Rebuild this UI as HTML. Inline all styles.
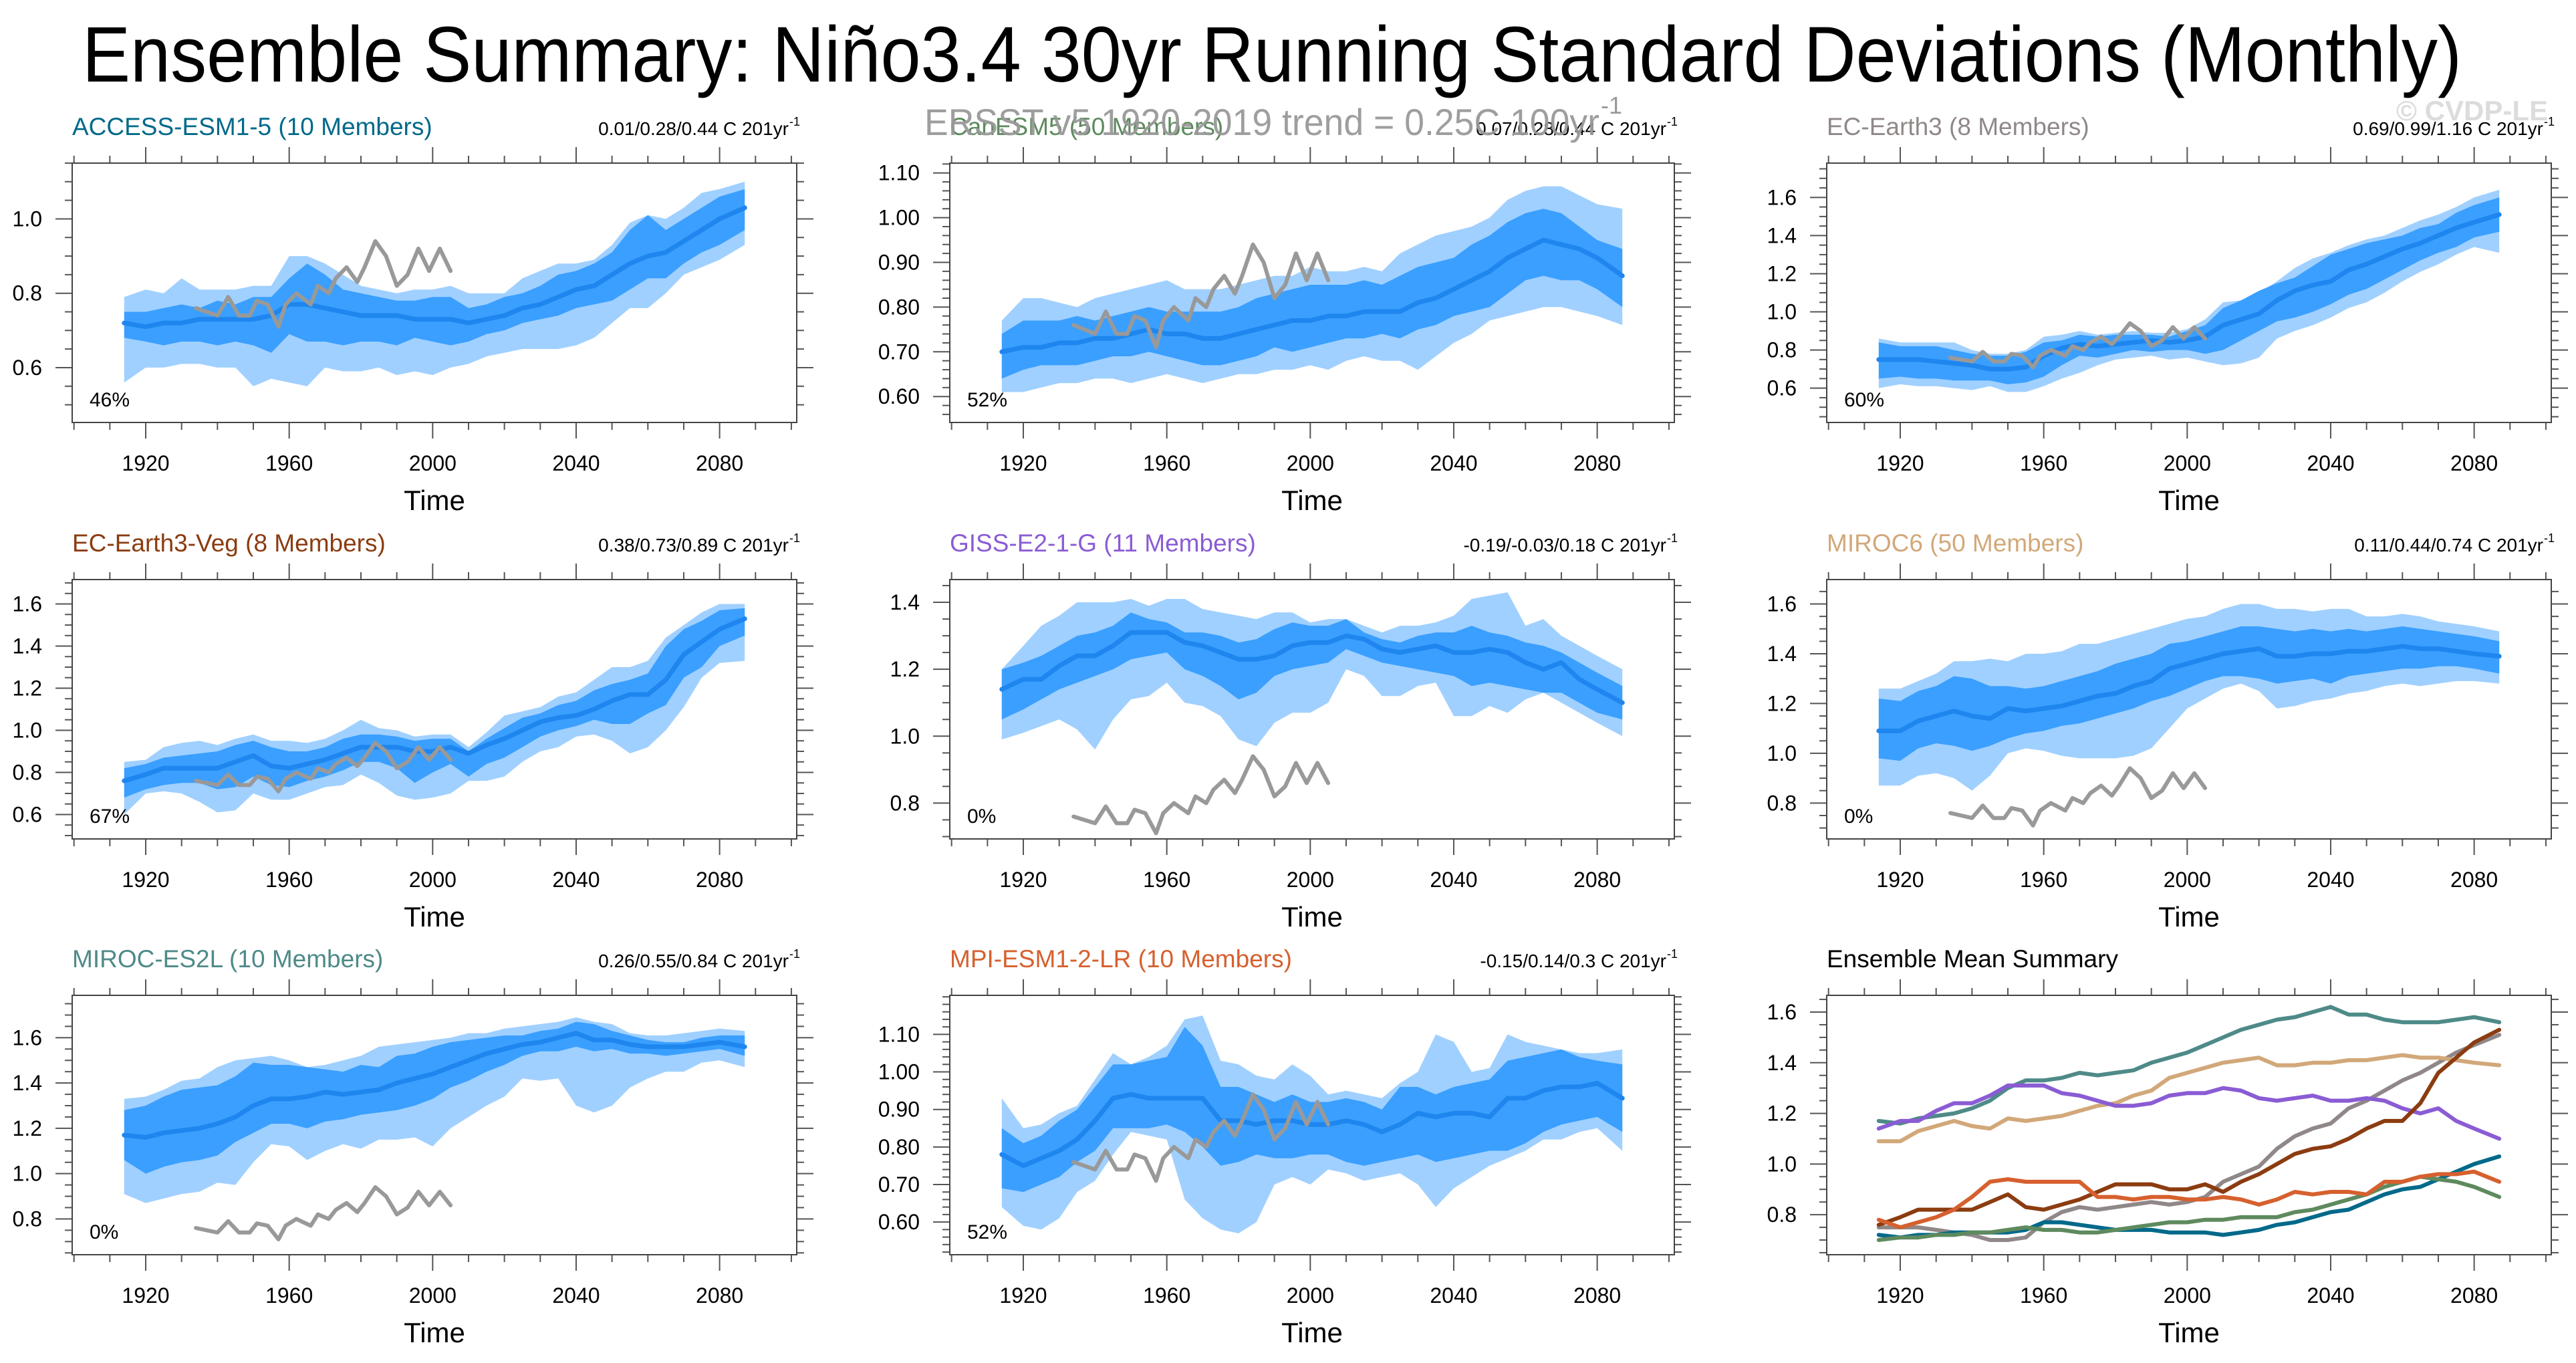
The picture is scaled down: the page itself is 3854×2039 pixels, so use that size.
<!DOCTYPE html>
<html><head><meta charset="utf-8"><title>Ensemble Summary</title>
<style>html,body{margin:0;padding:0;background:#fff;}svg{display:block;font-family:"Liberation Sans",Arial,sans-serif;}</style>
</head><body>
<svg id="chart" xmlns="http://www.w3.org/2000/svg" width="3854" height="2039" viewBox="0 0 3854 2039">
<rect width="3854" height="2039" fill="#fff"/>
<text x="123" y="122" font-size="118" textLength="3560" lengthAdjust="spacingAndGlyphs" fill="#000">Ensemble Summary: Niño3.4 30yr Running Standard Deviations (Monthly)</text>
<text x="3812" y="180" font-size="42" font-weight="bold" text-anchor="end" fill="#dcdcdc">© CVDP-LE</text>
<g id="panels"></g>
<text x="1383" y="202" font-size="56" fill="#999" fill-opacity="0.95" textLength="1010" lengthAdjust="spacingAndGlyphs">ERSST v5 1920-2019 trend = 0.25C 100yr</text>
<text x="2395" y="170" font-size="36" fill="#999">-1</text>
</svg>
<script>
const years=[1914,1920,1925,1930,1935,1940,1945,1950,1955,1960,1965,1970,1975,1980,1985,1990,1995,2000,2005,2010,2015,2020,2025,2030,2035,2040,2045,2050,2055,2060,2065,2070,2075,2080,2087];
const obsYears=[1934,1937,1940,1943,1946,1949,1951,1954,1957,1959,1962,1966,1968,1971,1973,1976,1979,1981,1984,1987,1990,1993,1996,1999,2002,2005];
const obsValues=[0.76,0.75,0.74,0.79,0.74,0.74,0.78,0.77,0.71,0.77,0.80,0.77,0.82,0.80,0.84,0.87,0.83,0.87,0.94,0.90,0.82,0.85,0.92,0.86,0.92,0.86];

const p1Mean=[.72,.71,.72,.72,.73,.73,.73,.73,.74,.77,.77,.76,.75,.74,.74,.74,.73,.73,.73,.72,.73,.74,.76,.77,.79,.81,.82,.85,.88,.90,.91,.94,.97,1.0,1.03];
const p1InHi=[.75,.75,.76,.77,.76,.78,.77,.79,.79,.84,.88,.85,.81,.80,.79,.78,.78,.79,.79,.76,.77,.79,.80,.82,.85,.86,.88,.91,.97,1.01,.97,1.00,1.03,1.06,1.08];
const p1InLo=[.68,.67,.66,.67,.67,.66,.67,.66,.64,.69,.67,.67,.66,.67,.67,.66,.68,.67,.66,.67,.69,.70,.72,.73,.74,.76,.77,.78,.81,.84,.84,.88,.91,.93,.97];
const p1OutHi=[.79,.81,.80,.84,.81,.81,.81,.82,.82,.90,.90,.88,.85,.82,.81,.80,.81,.81,.82,.80,.80,.80,.84,.86,.88,.88,.89,.93,.99,1.01,1.00,1.03,1.07,1.08,1.10];
const p1OutLo=[.56,.60,.60,.61,.61,.60,.60,.55,.57,.56,.55,.60,.59,.59,.60,.58,.59,.58,.60,.61,.63,.64,.65,.65,.65,.66,.68,.72,.76,.76,.80,.85,.87,.89,.93];

const p2Mean=[.70,.71,.71,.72,.72,.73,.73,.74,.75,.74,.74,.73,.73,.74,.75,.76,.77,.77,.78,.78,.79,.79,.79,.81,.82,.84,.86,.88,.91,.93,.95,.94,.93,.91,.87];
const p2InHi=[.74,.77,.77,.77,.78,.77,.78,.79,.80,.79,.79,.79,.79,.80,.82,.83,.84,.85,.85,.85,.86,.85,.87,.89,.90,.91,.94,.96,.99,1.01,1.02,1.01,.98,.95,.93];
const p2InLo=[.64,.66,.67,.67,.67,.68,.69,.69,.70,.69,.68,.67,.67,.68,.69,.71,.70,.71,.72,.73,.73,.74,.73,.75,.76,.78,.79,.80,.83,.86,.87,.86,.86,.84,.80];
const p2OutHi=[.77,.82,.82,.81,.80,.82,.83,.84,.85,.86,.84,.84,.84,.85,.86,.87,.87,.89,.88,.88,.89,.88,.92,.94,.96,.97,.98,1.00,1.04,1.06,1.07,1.07,1.05,1.03,1.02];
const p2OutLo=[.61,.61,.62,.63,.63,.64,.64,.63,.64,.65,.64,.63,.64,.65,.65,.66,.66,.67,.66,.68,.69,.68,.68,.66,.69,.72,.74,.77,.78,.79,.80,.80,.79,.78,.76];

const p3Mean=[.75,.75,.75,.74,.73,.72,.70,.70,.71,.77,.81,.83,.82,.83,.84,.85,.84,.85,.87,.93,.96,.99,1.06,1.11,1.14,1.16,1.22,1.25,1.29,1.33,1.36,1.40,1.44,1.47,1.51];
const p3InHi=[.84,.82,.82,.82,.80,.78,.77,.77,.79,.84,.85,.88,.87,.88,.88,.88,.87,.90,.93,1.02,1.06,1.11,1.15,1.18,1.24,1.30,1.33,1.36,1.38,1.40,1.44,1.46,1.52,1.56,1.60];
const p3InLo=[.65,.66,.65,.65,.64,.64,.64,.62,.63,.66,.72,.77,.76,.78,.80,.79,.80,.80,.78,.80,.85,.90,.95,.97,1.00,1.04,1.09,1.12,1.17,1.22,1.27,1.31,1.34,1.39,1.42];
const p3OutHi=[.86,.84,.84,.84,.84,.80,.78,.78,.80,.87,.88,.90,.88,.89,.90,.89,.89,.91,.96,1.05,1.06,1.10,1.16,1.23,1.28,1.31,1.35,1.38,1.40,1.44,1.48,1.51,1.55,1.60,1.64];
const p3OutLo=[.60,.62,.61,.61,.60,.59,.61,.58,.58,.61,.65,.68,.72,.75,.76,.77,.75,.76,.74,.72,.73,.76,.86,.90,.93,.97,1.02,1.05,1.10,1.16,1.21,1.25,1.30,1.34,1.31];

const p4Mean=[.76,.79,.82,.82,.82,.82,.85,.88,.83,.82,.84,.86,.89,.92,.92,.92,.90,.90,.92,.89,.93,.96,1.00,1.04,1.06,1.07,1.10,1.14,1.17,1.17,1.24,1.36,1.42,1.48,1.53];
const p4InHi=[.82,.84,.87,.88,.89,.90,.93,.95,.92,.90,.90,.92,.96,.98,.98,.97,.95,.96,.96,.90,.96,1.01,1.06,1.08,1.12,1.14,1.19,1.22,1.24,1.27,1.40,1.48,1.52,1.57,1.58];
const p4InLo=[.68,.72,.74,.75,.75,.72,.73,.78,.74,.73,.76,.78,.81,.85,.85,.82,.75,.80,.84,.78,.84,.87,.92,.97,1.00,1.02,1.05,1.03,1.03,1.08,1.12,1.25,1.30,1.40,1.45];
const p4OutHi=[.85,.86,.92,.94,.95,.93,.96,.98,.95,.95,.94,.96,1.0,1.05,1.01,1.00,.97,.98,.98,.92,.99,1.07,1.09,1.11,1.16,1.18,1.24,1.30,1.30,1.33,1.44,1.50,1.56,1.60,1.60];
const p4OutLo=[.60,.70,.71,.70,.66,.61,.62,.70,.67,.67,.70,.73,.74,.79,.75,.69,.67,.68,.70,.76,.76,.78,.85,.90,.92,.97,.98,.95,.89,.92,1.00,1.11,1.25,1.32,1.33];

const p5Mean=[1.14,1.17,1.17,1.21,1.24,1.24,1.27,1.31,1.31,1.31,1.28,1.27,1.25,1.23,1.23,1.24,1.27,1.28,1.28,1.30,1.29,1.26,1.25,1.26,1.27,1.25,1.25,1.26,1.25,1.22,1.20,1.22,1.17,1.14,1.10];
const p5InHi=[1.20,1.22,1.24,1.27,1.30,1.31,1.33,1.37,1.35,1.34,1.31,1.31,1.30,1.28,1.29,1.32,1.34,1.33,1.33,1.35,1.31,1.29,1.28,1.30,1.31,1.31,1.33,1.31,1.30,1.28,1.27,1.25,1.22,1.19,1.15];
const p5InLo=[1.05,1.08,1.11,1.14,1.16,1.18,1.20,1.23,1.24,1.25,1.20,1.18,1.15,1.11,1.13,1.18,1.20,1.21,1.22,1.26,1.24,1.22,1.21,1.20,1.19,1.18,1.15,1.16,1.15,1.14,1.13,1.13,1.10,1.07,1.05];
const p5OutHi=[1.20,1.27,1.33,1.36,1.40,1.40,1.40,1.41,1.39,1.41,1.41,1.38,1.37,1.36,1.35,1.37,1.37,1.34,1.35,1.35,1.33,1.31,1.33,1.33,1.34,1.36,1.41,1.42,1.43,1.33,1.35,1.30,1.27,1.24,1.20];
const p5OutLo=[0.99,1.01,1.03,1.05,1.02,0.96,1.05,1.11,1.12,1.16,1.10,1.09,1.06,0.99,0.97,1.04,1.07,1.07,1.10,1.20,1.18,1.12,1.12,1.15,1.16,1.06,1.06,1.09,1.07,1.11,1.13,1.10,1.07,1.04,1.00];

const p6Mean=[1.09,1.09,1.13,1.15,1.17,1.15,1.14,1.18,1.17,1.18,1.19,1.21,1.23,1.24,1.27,1.29,1.34,1.36,1.38,1.40,1.41,1.42,1.39,1.39,1.40,1.40,1.41,1.41,1.42,1.43,1.42,1.42,1.41,1.40,1.39];
const p6InHi=[1.22,1.21,1.25,1.27,1.31,1.30,1.27,1.27,1.26,1.27,1.29,1.31,1.33,1.36,1.38,1.40,1.44,1.45,1.47,1.49,1.51,1.51,1.50,1.49,1.50,1.49,1.50,1.49,1.50,1.51,1.50,1.49,1.48,1.47,1.45];
const p6InLo=[.98,.97,1.02,1.04,1.03,1.01,1.03,1.06,1.08,1.09,1.11,1.12,1.14,1.16,1.18,1.21,1.23,1.26,1.29,1.31,1.31,1.30,1.28,1.29,1.30,1.28,1.31,1.32,1.33,1.34,1.34,1.35,1.35,1.34,1.32];
const p6OutHi=[1.26,1.26,1.29,1.32,1.37,1.37,1.38,1.37,1.40,1.40,1.41,1.44,1.44,1.46,1.48,1.50,1.52,1.54,1.55,1.58,1.60,1.60,1.58,1.58,1.57,1.58,1.58,1.55,1.55,1.56,1.55,1.53,1.52,1.51,1.49];
const p6OutLo=[.87,.87,.91,.92,.90,.85,.91,1.00,1.02,1.01,.99,.98,.98,.98,.99,1.02,1.10,1.18,1.22,1.26,1.28,1.25,1.18,1.19,1.21,1.22,1.24,1.25,1.27,1.28,1.27,1.28,1.29,1.29,1.28];

const p7Mean=[1.17,1.16,1.18,1.19,1.20,1.22,1.25,1.30,1.33,1.33,1.34,1.36,1.35,1.36,1.37,1.40,1.42,1.44,1.47,1.50,1.53,1.55,1.57,1.58,1.60,1.62,1.59,1.59,1.57,1.56,1.56,1.56,1.57,1.58,1.56];
const p7InHi=[1.28,1.30,1.34,1.37,1.38,1.39,1.43,1.49,1.48,1.48,1.47,1.46,1.45,1.48,1.47,1.52,1.53,1.56,1.58,1.59,1.60,1.61,1.61,1.63,1.64,1.67,1.66,1.63,1.61,1.59,1.58,1.58,1.60,1.61,1.61];
const p7InLo=[1.06,1.00,1.03,1.05,1.06,1.08,1.14,1.18,1.22,1.22,1.20,1.23,1.24,1.26,1.27,1.28,1.30,1.33,1.38,1.41,1.45,1.48,1.52,1.54,1.54,1.56,1.54,1.55,1.53,1.53,1.52,1.53,1.54,1.55,1.52];
const p7OutHi=[1.33,1.34,1.37,1.41,1.42,1.47,1.50,1.51,1.52,1.50,1.47,1.48,1.50,1.52,1.56,1.57,1.58,1.59,1.60,1.62,1.62,1.64,1.65,1.66,1.67,1.69,1.67,1.66,1.62,1.61,1.61,1.62,1.63,1.64,1.63];
const p7OutLo=[.91,.87,.89,.91,.92,.96,.95,1.05,1.13,1.12,1.06,1.10,1.13,1.11,1.15,1.15,1.16,1.12,1.20,1.25,1.30,1.34,1.42,1.41,1.42,1.30,1.27,1.30,1.38,1.42,1.45,1.45,1.49,1.50,1.47];

const p8Mean=[.78,.75,.77,.79,.82,.87,.93,.94,.93,.93,.93,.93,.87,.87,.86,.87,.87,.86,.86,.87,.86,.84,.86,.89,.88,.89,.89,.88,.93,.93,.95,.96,.96,.97,.93];
const p8InHi=[.85,.81,.83,.87,.90,.96,1.02,1.02,1.03,1.04,1.12,1.07,.96,.96,.94,.92,.94,.92,.92,.93,.92,.90,.96,.96,.94,.96,.97,.98,1.03,1.04,1.05,1.06,1.04,1.03,1.02];
const p8InLo=[.69,.68,.70,.72,.76,.79,.85,.85,.85,.86,.84,.80,.75,.76,.78,.77,.77,.78,.78,.76,.75,.76,.77,.78,.76,.77,.78,.79,.79,.81,.84,.86,.87,.88,.84];
const p8OutHi=[.93,.85,.86,.89,.91,.98,1.05,1.02,1.04,1.07,1.14,1.15,1.03,1.02,.99,.98,1.02,.99,.94,.95,.94,.93,.97,1.00,1.10,1.08,1.00,1.01,1.10,1.08,1.07,1.06,1.05,1.05,1.06];
const p8OutLo=[.64,.59,.58,.61,.68,.71,.78,.84,.83,.82,.66,.61,.58,.57,.60,.70,.72,.70,.74,.73,.71,.72,.73,.70,.64,.69,.72,.75,.77,.79,.82,.82,.84,.85,.79];

const modelNames=["ACCESS-ESM1-5 (10 Members)","CanESM5 (50 Members)","EC-Earth3 (8 Members)","EC-Earth3-Veg (8 Members)","GISS-E2-1-G (11 Members)","MIROC6 (50 Members)","MIROC-ES2L (10 Members)","MPI-ESM1-2-LR (10 Members)"];
const trendLabels=["0.01/0.28/0.44 C 201yr","0.07/0.28/0.44 C 201yr","0.69/0.99/1.16 C 201yr","0.38/0.73/0.89 C 201yr","-0.19/-0.03/0.18 C 201yr","0.11/0.44/0.74 C 201yr","0.26/0.55/0.84 C 201yr","-0.15/0.14/0.3 C 201yr"];
const pctLabels=["46%","52%","60%","67%","0%","0%","0%","52%"];
const yMins=[0.4525,0.542,0.42,0.484,0.693,0.656,0.642,0.513];
const yMaxs=[1.15,1.122,1.78,1.716,1.468,1.698,1.787,1.204];
const yMajors=[[0.6,0.8,1.0],[0.6,0.7,0.8,0.9,1.0,1.1],[0.6,0.8,1.0,1.2,1.4,1.6],[0.6,0.8,1.0,1.2,1.4,1.6],[0.8,1.0,1.2,1.4],[0.8,1.0,1.2,1.4,1.6],[0.8,1.0,1.2,1.4,1.6],[0.6,0.7,0.8,0.9,1.0,1.1]];
const summaryMajors=[0.8,1.0,1.2,1.4,1.6];
const xMajors=[1920,1960,2000,2040,2080];

const modelColors=["#00698a","#5e8a5e","#908888","#8b3c10","#8a5cd4","#d2a87a","#4e8a88","#d6602e"];
const means=[p1Mean,p2Mean,p3Mean,p4Mean,p5Mean,p6Mean,p7Mean,p8Mean];
const inHis=[p1InHi,p2InHi,p3InHi,p4InHi,p5InHi,p6InHi,p7InHi,p8InHi];
const inLos=[p1InLo,p2InLo,p3InLo,p4InLo,p5InLo,p6InLo,p7InLo,p8InLo];
const outHis=[p1OutHi,p2OutHi,p3OutHi,p4OutHi,p5OutHi,p6OutHi,p7OutHi,p8OutHi];
const outLos=[p1OutLo,p2OutLo,p3OutLo,p4OutLo,p5OutLo,p6OutLo,p7OutLo,p8OutLo];

const NS="http://www.w3.org/2000/svg";
const root=document.getElementById('panels');
const BW=1084,BH=388;
const colX=[108,1421,2733];
const rowY=[244,867,1489];
const X0=1899.5,X1=2101.5;

function mk(tag,attrs,parent){const e=document.createElementNS(NS,tag);for(const k in attrs)e.setAttribute(k,attrs[k]);parent.appendChild(e);return e;}

function drawAxes(g,bx,by,ymin,ymax,majors,minorStep,dec){
  const xs=yr=>bx+(yr-X0)/(X1-X0)*BW;
  const ys=v=>by+BH-(v-ymin)/(ymax-ymin)*BH;
  for(let yr=1900;yr<=2100;yr+=10){
    const maj=xMajors.includes(yr);const L=maj?24:11;const x=xs(yr);
    const t1=mk('line',{x1:x,x2:x,y1:by,y2:by-L,stroke:'#555','stroke-width':2},g);
    
    
    const t2=mk('line',{x1:x,x2:x,y1:by+BH,y2:by+BH+L,stroke:'#555','stroke-width':2},g);
    
    
  }
  xMajors.forEach(yr=>{
    const t=mk('text',{x:xs(yr),y:by+BH+72,'font-size':32,'text-anchor':'middle',fill:'#000'},g);
    t.textContent=String(yr);
    
    
  });
  const nMin=Math.ceil(ymin/minorStep-1e-6),nMax=Math.floor(ymax/minorStep+1e-6);
  for(let n=nMin;n<=nMax;n++){
    const v=n*minorStep;const maj=majors.some(m=>Math.abs(m-v)<1e-6);const L=maj?25:11;const y=ys(v);
    const a=mk('line',{x1:bx,x2:bx-L,y1:y,y2:y,stroke:'#555','stroke-width':2},g);
    
    
    const b=mk('line',{x1:bx+BW,x2:bx+BW+L,y1:y,y2:y,stroke:'#555','stroke-width':2},g);
    
    
  }
  majors.forEach(v=>{
    const t=mk('text',{x:bx-45,y:ys(v)+11,'font-size':32,'text-anchor':'end',fill:'#000'},g);
    t.textContent=v.toFixed(dec);
    
    
  });
  const tl=mk('text',{x:bx+BW/2,y:by+BH+131,'font-size':42,'text-anchor':'middle',fill:'#000'},g);
  tl.textContent='Time';
  
  
  return {xs,ys};
}
function pathLine(xsArr,vals,xs,ys){return vals.map((v,i)=>(i?'L':'M')+xs(xsArr[i]).toFixed(1)+','+ys(v).toFixed(1)).join('');}
function band(lo,hi,xs,ys){let d='';years.forEach((yr,i)=>{d+=(i?'L':'M')+xs(yr).toFixed(1)+','+ys(hi[i]).toFixed(1);});for(let i=years.length-1;i>=0;i--)d+='L'+xs(years[i]).toFixed(1)+','+ys(lo[i]).toFixed(1);return d+'Z';}

for(let p=0;p<8;p++){
  const bx=colX[p%3],by=rowY[Math.floor(p/3)];
  const g=mk('g',{},root);
  
  
  const dec=(p===1||p===7)?2:1;const minor=(p===1||p===7)?0.02:0.05;
  const ax=drawAxes(g,bx,by,yMins[p],yMaxs[p],yMajors[p],minor,dec);
  const cp='clip'+p;const cl=mk('clipPath',{id:cp},g);mk('rect',{x:bx,y:by,width:BW,height:BH},cl);
  const dg=mk('g',{'clip-path':'url(#'+cp+')'},g);
  const o=mk('path',{d:band(outLos[p],outHis[p],ax.xs,ax.ys),fill:'#a0d0ff'},dg);
  
  
  const inn=mk('path',{d:band(inLos[p],inHis[p],ax.xs,ax.ys),fill:'#3a9fff'},dg);
  
  
  const m=mk('path',{d:pathLine(years,means[p],ax.xs,ax.ys),fill:'none',stroke:'#1e86ee','stroke-width':7,'stroke-linejoin':'round','stroke-linecap':'round'},dg);
  
  
  const ob=mk('path',{d:pathLine(obsYears,obsValues,ax.xs,ax.ys),fill:'none',stroke:'#999','stroke-width':6,'stroke-linejoin':'round','stroke-linecap':'round'},dg);
  
  
  const fr=mk('rect',{x:bx,y:by,width:BW,height:BH,fill:'none',stroke:'#444','stroke-width':2},g);
  
  
  const pc=mk('text',{x:bx+26,y:by+BH-24,'font-size':30,fill:'#000'},g);
  pc.textContent=pctLabels[p];
  
  
  const tt=mk('text',{x:bx,y:by-42,'font-size':37,fill:modelColors[p]},g);
  tt.textContent=modelNames[p];
  
  
  const rl=mk('text',{x:bx+BW-12,y:by-42,'font-size':28,'text-anchor':'end',fill:'#000'},g);
  rl.textContent=trendLabels[p];
  
  
  const sp=mk('text',{x:bx+BW-11,y:by-56,'font-size':18,fill:'#000'},g);
  sp.textContent='-1';
  
  
}
// summary panel
{
  const bx=colX[2],by=rowY[2];
  const g=mk('g',{},root);
  
  
  const ax=drawAxes(g,bx,by,0.642,1.666,summaryMajors,0.05,1);
  const order=[2,6,5,4,0,1,3,7];
  order.forEach(p=>{
    const l=mk('path',{d:pathLine(years,means[p],ax.xs,ax.ys),fill:'none',stroke:modelColors[p],'stroke-width':6,'stroke-linejoin':'round','stroke-linecap':'round'},g);
    
    
  });
  const fr=mk('rect',{x:bx,y:by,width:BW,height:BH,fill:'none',stroke:'#444','stroke-width':2},g);
  
  
  const tt=mk('text',{x:bx,y:by-42,'font-size':37,fill:'#000'},g);
  tt.textContent='Ensemble Mean Summary';
  
  
}
</script>
</body></html>
